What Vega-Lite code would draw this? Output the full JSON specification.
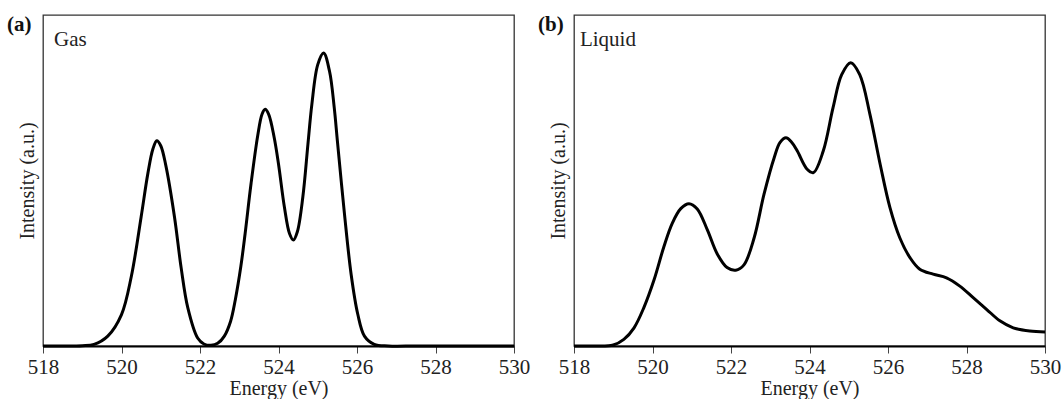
{
  "$schema": "https://vega.github.io/schema/vega-lite/v6.json",
  "background": "white",
  "padding": {"left": 6, "top": 13, "right": 5, "bottom": 0},
  "spacing": 6,
  "config": {
    "font": "Liberation Serif",
    "view": {"stroke": "#333", "strokeWidth": 1.3},
    "axis": {"labelFont": "Liberation Serif", "titleFont": "Liberation Serif", "labelColor": "#222", "titleColor": "#222", "titleFontWeight": "normal"},
    "title": {"font": "Liberation Serif"}
  },
  "datasets": {
    "gas": [
      {"energy": 518.0, "intensity": 0}, {"energy": 518.5, "intensity": 0}, {"energy": 519.0, "intensity": 0.001},
      {"energy": 519.3, "intensity": 0.005}, {"energy": 519.65, "intensity": 0.03}, {"energy": 520.0, "intensity": 0.095},
      {"energy": 520.25, "intensity": 0.21}, {"energy": 520.5, "intensity": 0.39}, {"energy": 520.67, "intensity": 0.52},
      {"energy": 520.8, "intensity": 0.595}, {"energy": 520.9, "intensity": 0.62}, {"energy": 521.0, "intensity": 0.605},
      {"energy": 521.13, "intensity": 0.545}, {"energy": 521.35, "intensity": 0.39}, {"energy": 521.52, "intensity": 0.236},
      {"energy": 521.69, "intensity": 0.115}, {"energy": 521.94, "intensity": 0.024}, {"energy": 522.1, "intensity": 0.006},
      {"energy": 522.28, "intensity": 0.002}, {"energy": 522.45, "intensity": 0.008}, {"energy": 522.62, "intensity": 0.03},
      {"energy": 522.78, "intensity": 0.075}, {"energy": 522.9, "intensity": 0.14}, {"energy": 523.04, "intensity": 0.24},
      {"energy": 523.15, "intensity": 0.34}, {"energy": 523.3, "intensity": 0.49}, {"energy": 523.47, "intensity": 0.635},
      {"energy": 523.58, "intensity": 0.7}, {"energy": 523.66, "intensity": 0.715}, {"energy": 523.75, "intensity": 0.7},
      {"energy": 523.89, "intensity": 0.63}, {"energy": 524.0, "intensity": 0.55}, {"energy": 524.15, "intensity": 0.42},
      {"energy": 524.28, "intensity": 0.34}, {"energy": 524.38, "intensity": 0.32}, {"energy": 524.48, "intensity": 0.345},
      {"energy": 524.62, "intensity": 0.45}, {"energy": 524.75, "intensity": 0.61}, {"energy": 524.85, "intensity": 0.73},
      {"energy": 525.0, "intensity": 0.85}, {"energy": 525.15, "intensity": 0.885}, {"energy": 525.3, "intensity": 0.83},
      {"energy": 525.42, "intensity": 0.72}, {"energy": 525.5, "intensity": 0.62}, {"energy": 525.68, "intensity": 0.4},
      {"energy": 525.85, "intensity": 0.217}, {"energy": 526.02, "intensity": 0.096}, {"energy": 526.19, "intensity": 0.03},
      {"energy": 526.44, "intensity": 0.005}, {"energy": 526.8, "intensity": 0}, {"energy": 527.5, "intensity": 0},
      {"energy": 528.5, "intensity": 0}, {"energy": 530.0, "intensity": 0}
    ],
    "liquid": [
      {"energy": 518.0, "intensity": 0}, {"energy": 518.5, "intensity": 0}, {"energy": 519.0, "intensity": 0.003},
      {"energy": 519.27, "intensity": 0.02}, {"energy": 519.53, "intensity": 0.055}, {"energy": 519.78, "intensity": 0.116},
      {"energy": 520.04, "intensity": 0.2}, {"energy": 520.29, "intensity": 0.3}, {"energy": 520.5, "intensity": 0.37},
      {"energy": 520.72, "intensity": 0.415}, {"energy": 520.93, "intensity": 0.43}, {"energy": 521.14, "intensity": 0.414},
      {"energy": 521.4, "intensity": 0.35}, {"energy": 521.65, "intensity": 0.278}, {"energy": 521.9, "intensity": 0.237},
      {"energy": 522.12, "intensity": 0.229}, {"energy": 522.33, "intensity": 0.245}, {"energy": 522.59, "intensity": 0.327},
      {"energy": 522.84, "intensity": 0.458}, {"energy": 523.1, "intensity": 0.569}, {"energy": 523.25, "intensity": 0.615},
      {"energy": 523.4, "intensity": 0.629}, {"energy": 523.55, "intensity": 0.615}, {"energy": 523.69, "intensity": 0.589},
      {"energy": 523.94, "intensity": 0.534}, {"energy": 524.1, "intensity": 0.524}, {"energy": 524.35, "intensity": 0.589},
      {"energy": 524.6, "intensity": 0.72}, {"energy": 524.82, "intensity": 0.82}, {"energy": 525.05, "intensity": 0.856},
      {"energy": 525.28, "intensity": 0.82}, {"energy": 525.54, "intensity": 0.7}, {"energy": 525.8, "intensity": 0.549},
      {"energy": 526.05, "intensity": 0.418}, {"energy": 526.3, "intensity": 0.327}, {"energy": 526.56, "intensity": 0.267},
      {"energy": 526.81, "intensity": 0.232}, {"energy": 527.15, "intensity": 0.217}, {"energy": 527.49, "intensity": 0.206},
      {"energy": 527.83, "intensity": 0.181}, {"energy": 528.17, "intensity": 0.146}, {"energy": 528.51, "intensity": 0.111},
      {"energy": 528.85, "intensity": 0.076}, {"energy": 529.19, "intensity": 0.055}, {"energy": 529.61, "intensity": 0.045},
      {"energy": 530.0, "intensity": 0.042}
    ],
    "labels": [
      {"panel": "a", "text": "Gas", "energy": 518.28, "intensity": 0.906},
      {"panel": "b", "text": "Liquid", "energy": 518.15, "intensity": 0.906}
    ]
  },
  "hconcat": [
    {
      "width": 471,
      "height": 331,
      "title": {"text": "(a)", "anchor": "start", "frame": "group", "dx": -36, "dy": 20, "fontSize": 21, "fontWeight": "bold", "color": "#111", "offset": 0},
      "layer": [
        {
          "data": {"name": "gas"},
          "mark": {"type": "line", "color": "#000", "strokeWidth": 3, "interpolate": "catmull-rom"},
          "encoding": {
            "x": {"field": "energy", "type": "quantitative", "scale": {"domain": [518, 530], "nice": false, "zero": false},
              "axis": {"title": "Energy (eV)", "values": [518,519,520,521,522,523,524,525,526,527,528,529,530], "labelExpr": "datum.value % 2 === 0 ? datum.label : ''", "grid": false, "domainColor": "#000", "domainWidth": 2, "tickColor": "#444", "tickWidth": 1, "tickSize": {"condition": {"test": "datum.value % 2 === 0", "value": 7}, "value": 5}, "labelFontSize": 21, "titleFontSize": 20, "labelPadding": 3, "titlePadding": 1, "labelFlush": false}},
            "y": {"field": "intensity", "type": "quantitative", "scale": {"domain": [0, 1], "nice": false},
              "axis": {"title": "Intensity (a.u.)", "labels": false, "ticks": false, "domain": false, "grid": false, "titleFontSize": 20, "titlePadding": 6}}
          }
        },
        {
          "data": {"name": "labels"},
          "transform": [{"filter": "datum.panel === 'a'"}],
          "mark": {"type": "text", "align": "left", "baseline": "alphabetic", "fontSize": 21, "color": "#222", "font": "Liberation Serif"},
          "encoding": {
            "x": {"field": "energy", "type": "quantitative"},
            "y": {"field": "intensity", "type": "quantitative"},
            "text": {"field": "text"}
          }
        }
      ]
    },
    {
      "width": 471,
      "height": 331,
      "title": {"text": "(b)", "anchor": "start", "frame": "group", "dx": -36, "dy": 20, "fontSize": 21, "fontWeight": "bold", "color": "#111", "offset": 0},
      "layer": [
        {
          "data": {"name": "liquid"},
          "mark": {"type": "line", "color": "#000", "strokeWidth": 3, "interpolate": "catmull-rom"},
          "encoding": {
            "x": {"field": "energy", "type": "quantitative", "scale": {"domain": [518, 530], "nice": false, "zero": false},
              "axis": {"title": "Energy (eV)", "values": [518,519,520,521,522,523,524,525,526,527,528,529,530], "labelExpr": "datum.value % 2 === 0 ? datum.label : ''", "grid": false, "domainColor": "#000", "domainWidth": 2, "tickColor": "#444", "tickWidth": 1, "tickSize": {"condition": {"test": "datum.value % 2 === 0", "value": 7}, "value": 5}, "labelFontSize": 21, "titleFontSize": 20, "labelPadding": 3, "titlePadding": 1, "labelFlush": false}},
            "y": {"field": "intensity", "type": "quantitative", "scale": {"domain": [0, 1], "nice": false},
              "axis": {"title": "Intensity (a.u.)", "labels": false, "ticks": false, "domain": false, "grid": false, "titleFontSize": 20, "titlePadding": 6}}
          }
        },
        {
          "data": {"name": "labels"},
          "transform": [{"filter": "datum.panel === 'b'"}],
          "mark": {"type": "text", "align": "left", "baseline": "alphabetic", "fontSize": 21, "color": "#222", "font": "Liberation Serif"},
          "encoding": {
            "x": {"field": "energy", "type": "quantitative"},
            "y": {"field": "intensity", "type": "quantitative"},
            "text": {"field": "text"}
          }
        }
      ]
    }
  ]
}
